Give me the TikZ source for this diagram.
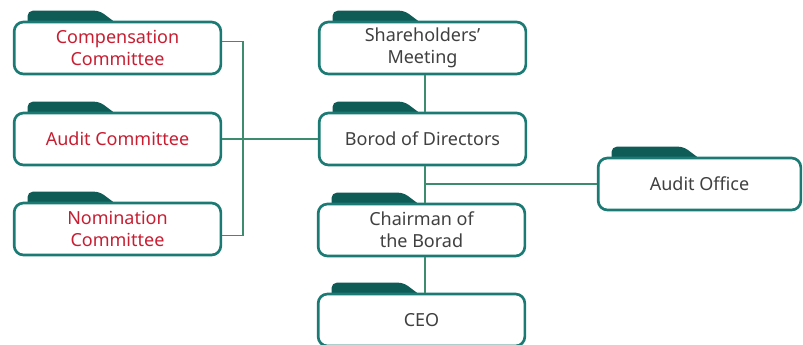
\documentclass[tikz,border=0pt]{standalone}
\usepackage{fontspec}
\setmainfont{Noto Sans}
\usetikzlibrary{calc, backgrounds}
\definecolor{boxteal}{HTML}{1B7B74}
\definecolor{tabteal}{HTML}{0F5C57}
\definecolor{linegreen}{HTML}{3E8C6F}
\definecolor{redtext}{HTML}{C81E32}
\definecolor{graytext}{HTML}{404040}
\tikzset{
  orgbox/.style={draw=boxteal, line width=2pt, fill=white, rounded corners=7pt,
    minimum width=155pt, minimum height=39pt, inner sep=0pt, align=center,
    text=graytext, font=\fontsize{13.5}{16.5}\selectfont},
  committee/.style={orgbox, text=redtext},
  link/.style={draw=linegreen, line width=1.1pt}
}
% folder tab on top of a box
\newcommand{\tabon}[1]{%
  \fill[tabteal] ([xshift=11pt,yshift=-3pt]#1.north west) [rounded corners=4pt]
    -- ++(0,10.5pt) -- ++(54pt,0) [sharp corners] -- ++(10pt,-7.5pt) -- ++(0,-3pt) -- cycle;}

\begin{document}
\begin{tikzpicture}[x=0.75pt,y=-0.75pt]
\useasboundingbox (0,0) rectangle (803,344);

\node[committee] (comp)   at (117.5,48)  {Compensation\\Committee};
\node[committee] (auditc) at (117.5,139) {Audit Committee};
\node[committee] (nom)    at (117.5,229) {Nomination\\Committee};

\node[orgbox] (share)  at (422.5,48)  {Shareholders’\\Meeting};
\node[orgbox] (board)  at (422.5,139) {Borod of Directors};
\node[orgbox] (chair)  at (421.5,230) {Chairman of\\the Borad};
\node[orgbox] (ceo)    at (421.5,320) {CEO};
\node[orgbox, minimum width=152pt] (audito) at (699.5,184) {Audit Office};

\begin{pgfonlayer}{background}
\foreach \n in {comp,auditc,nom,share,board,chair,ceo,audito} {\tabon{\n}}
\end{pgfonlayer}

\coordinate (spine) at (425,0);
\coordinate (brk) at (243,0);

\draw[link] (share.south -| spine) -- (board.north -| spine);
\draw[link] (board.south -| spine) -- (chair.north -| spine);
\draw[link] (chair.south -| spine) -- (ceo.north -| spine);
\draw[link] (spine |- audito.west) -- (audito.west);

\draw[link] ([yshift=5pt]comp.east) -- ([yshift=5pt]comp.east -| brk)
  -- ([yshift=-5pt]nom.east -| brk) -- ([yshift=-5pt]nom.east);
\draw[link] (auditc.east) -- (board.west);
\end{tikzpicture}
\end{document}
